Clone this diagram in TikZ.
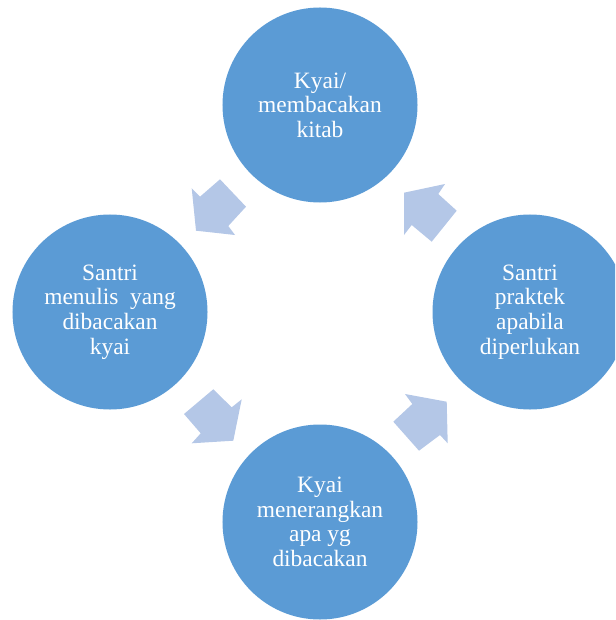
\documentclass[tikz,border=0pt]{standalone}
\usepackage{fontspec}
\setmainfont{Liberation Serif}
\usepackage{pgf,tikz}
\usetikzlibrary{arrows}
\definecolor{circblue}{RGB}{91,155,213}
\definecolor{arrblue}{RGB}{180,199,231}

\begin{document}
\begin{tikzpicture}[line cap=round,line join=round,x=0.03cm,y=-0.03cm,
    stage/.style={circle,fill=circblue,text=white,minimum size=5.85cm,inner sep=0pt,align=center,font=\fontsize{20}{21}\selectfont},
    blockarr/.style={fill=arrblue}]
            \useasboundingbox (0,0) rectangle (615,620);
            \clip (0,0) rectangle (615,620);
            \node[stage] (kitab) at (320,105) {Kyai/\\membacakan\\kitab};
            \node[stage] (menulis) at (110,312) {Santri\\menulis\ \ yang\\dibacakan\\kyai};
            \node[stage] (praktek) at (530,312) {Santri\\praktek\\apabila\\diperlukan};
            \node[stage] (terang) at (320,522) {Kyai\\menerangkan\\apa yg\\dibacakan};
            \fill[blockarr] (196,230.7) -- (191.7,188.3) -- (200,196.7) -- (220,179.3) -- (246,206.7) -- (228.3,226) -- (235,235) -- cycle;
            \fill[blockarr] (404,192.7) -- (445,184) -- (438.3,194) -- (456.7,210.7) -- (431.7,241.7) -- (411.7,225) -- (404,235) -- cycle;
            \fill[blockarr] (233.3,440.7) -- (241.7,399.3) -- (231.7,407.3) -- (213.3,389.3) -- (184,414) -- (200.7,433.3) -- (191.7,443.3) -- cycle;
            \fill[blockarr] (446.7,401.7) -- (405,394) -- (412.3,404) -- (393.3,421.7) -- (419,450.7) -- (440,435) -- (447.7,443.3) -- cycle;
            \end{tikzpicture}
\end{document}
